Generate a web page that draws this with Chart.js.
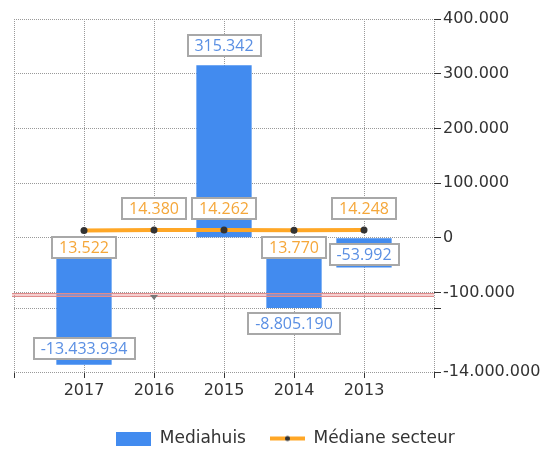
<!DOCTYPE html>
<html>
<head>
<meta charset="utf-8">
<script src="https://cdn.jsdelivr.net/npm/chart.js@4/dist/chart.umd.min.js"></script>
<style>
  html, body { margin: 0; padding: 0; background: #fff; }
  #wrap { width: 557px; height: 451px; }
</style>
</head>
<body>
<div id="wrap"><canvas id="myChart" width="557" height="451"></canvas></div>
<script>
// data
const years = ['2017', '2016', '2015', '2014', '2013'];
const mediahuis = [-13433934, null, 315342, -8805190, -53992];
const medianeSecteur = [13522, 14380, 14262, 13770, 14248];
const yTicks = [400000, 300000, 200000, 100000, 0, -100000, -9000000, -14000000];
const yTickLabels = ['400.000', '300.000', '200.000', '100.000', '0', '-100.000', '', '-14.000.000'];

// broken axis: value -> fraction of the height (0 = bottom)
const yStops = [[-14000000, 0], [-9000000, 0.18], [-100000, 0.225], [400000, 1]];
const breakValue = -100000;

const fmt = v => (v < 0 ? '-' : '') + Math.abs(v).toString().replace(/\B(?=(\d{3})+(?!\d))/g, '.');

class BrokenScale extends Chart.LinearScale {
    static id = 'broken';
    determineDataLimits() {
        this.min = yStops[0][0];
        this.max = yStops[yStops.length - 1][0];
    }
    buildTicks() {
        return yTicks.map(v => ({ value: v }));
    }
    getPixelForValue(value) {
        if (value === null || value === undefined || isNaN(value)) return NaN;
        let i = 1;
        while (i < yStops.length - 1 && value > yStops[i][0]) i++;
        const [v0, d0] = yStops[i - 1];
        const [v1, d1] = yStops[i];
        return this.getPixelForDecimal(d0 + (value - v0) / (v1 - v0) * (d1 - d0));
    }
    getValueForPixel(pixel) {
        const d = 1 - (pixel - this.top) / this.height;
        let i = 1;
        while (i < yStops.length - 1 && d > yStops[i][1]) i++;
        const [v0, d0] = yStops[i - 1];
        const [v1, d1] = yStops[i];
        return v0 + (d - d0) / (d1 - d0) * (v1 - v0);
    }
}
Chart.register(BrokenScale);

// padded categories so the grid reaches one step beyond the first and last year
const labels = [''].concat(years, ['']);
const pad = arr => [null].concat(arr, [null]);

// legend icons
function makeIcon(draw) {
    const c = document.createElement('canvas');
    c.width = 35; c.height = 14;
    draw(c.getContext('2d'));
    return c;
}
const barIcon = makeIcon(g => { g.fillStyle = '#428BEF'; g.fillRect(0, 0, 35, 14); });
const lineIcon = makeIcon(g => {
    g.fillStyle = '#FFA726'; g.fillRect(0, 5, 35, 4);
    g.fillStyle = '#333'; g.beginPath(); g.arc(17.5, 7, 2.5, 0, Math.PI * 2); g.fill();
});

// label placement
const barLabelShift = [-16, 0, -20, 15, -13];
const medianLabelBelow = [true, false, false, true, false];

function drawBox(ctx, text, cx, cy, color) {
    ctx.font = '16px "Open Sans"';
    const w = Math.round(ctx.measureText(text).width + 14);
    const h = 21;
    const x = Math.round(cx - w / 2), y = Math.round(cy - h / 2);
    ctx.fillStyle = '#fff';
    ctx.fillRect(x, y, w, h);
    ctx.strokeStyle = '#A8A8A8';
    ctx.lineWidth = 2;
    ctx.strokeRect(x, y, w, h);
    ctx.fillStyle = color;
    ctx.textAlign = 'center';
    ctx.textBaseline = 'middle';
    ctx.fillText(text, cx, y + h / 2 + 1);
}

const boxLabels = {
    id: 'boxLabels',
    afterDatasetsDraw(chart) {
        const { ctx, chartArea, scales: { x, y } } = chart;
        ctx.save();
        // axis break band
        const yb = Math.round(y.getPixelForValue(breakValue));
        ctx.fillStyle = 'rgba(236,150,150,0.45)';
        ctx.fillRect(chartArea.left - 2, yb, chartArea.right - chartArea.left + 2, 4);
        ctx.strokeStyle = '#DE8C8C';
        ctx.lineWidth = 1;
        ctx.beginPath();
        ctx.moveTo(chartArea.left - 2, yb + 0.5); ctx.lineTo(chartArea.right, yb + 0.5);
        ctx.moveTo(chartArea.left - 2, yb + 3.5); ctx.lineTo(chartArea.right, yb + 3.5);
        ctx.stroke();
        // marker for missing values
        mediahuis.forEach((v, i) => {
            if (v !== null) return;
            const px = x.getPixelForValue(i + 1);
            ctx.fillStyle = '#777';
            ctx.beginPath();
            ctx.moveTo(px - 4, yb + 2); ctx.lineTo(px + 4, yb + 2); ctx.lineTo(px, yb + 7);
            ctx.closePath(); ctx.fill();
        });

        const barMeta = chart.getDatasetMeta(0);
        mediahuis.forEach((v, i) => {
            if (v === null) return;
            const el = barMeta.data[i + 1];
            drawBox(ctx, fmt(v), el.x, el.y + barLabelShift[i], '#5A8FE3');
        });
        const lineMeta = chart.getDatasetMeta(1);
        medianeSecteur.forEach((v, i) => {
            const el = lineMeta.data[i + 1];
            drawBox(ctx, fmt(v), el.x, el.y + (medianLabelBelow[i] ? 17 : -21.5), '#F5A73A');
        });
        ctx.restore();
    }
};

const ctx = document.getElementById('myChart').getContext('2d');
const myChart = new Chart(ctx, {
    type: 'bar',
    data: {
        labels: labels,
        datasets: [
            {
                label: 'Mediahuis',
                data: pad(mediahuis),
                backgroundColor: '#428BEF',
                borderWidth: 0,
                barPercentage: 0.79,
                categoryPercentage: 1,
                order: 2
            },
            {
                type: 'line',
                label: 'Médiane secteur',
                data: pad(medianeSecteur),
                borderColor: '#FFA726',
                borderWidth: 4,
                pointRadius: 3.5,
                pointBackgroundColor: '#333',
                pointBorderColor: '#333',
                pointBorderWidth: 0,
                tension: 0,
                order: 1
            }
        ]
    },
    options: {
        responsive: false,
        animation: false,
        events: [],
        layout: { padding: { top: 19, left: 14, right: 0, bottom: -6 } },
        scales: {
            x: {
                offset: false,
                grid: {
                    offset: false,
                    color: '#999',
                    tickColor: '#333',
                    tickLength: 6,
                    tickBorderDash: []
                },
                border: { display: false, dash: [1, 1] },
                ticks: {
                    padding: 3,
                    autoSkip: false,
                    maxRotation: 0,
                    color: '#333',
                    font: { family: 'DejaVu Sans', size: 16 }
                },
                afterFit: scale => { scale.height = 34; }
            },
            y: {
                type: 'broken',
                position: 'right',
                grid: {
                    color: '#999',
                    tickColor: '#333',
                    tickLength: 7,
                    tickBorderDash: []
                },
                border: { display: false, dash: [1, 1] },
                ticks: {
                    padding: 2,
                    autoSkip: false,
                    color: '#333',
                    font: { family: 'DejaVu Sans', size: 16 },
                    callback: (value, index) => yTickLabels[index]
                },
                afterFit: scale => { scale.width = 123; }
            }
        },
        plugins: {
            tooltip: { enabled: false },
            legend: {
                position: 'bottom',
                labels: {
                    usePointStyle: true,
                    pointStyleWidth: 35,
                    boxHeight: 14,
                    padding: 24,
                    color: '#333',
                    font: { family: 'DejaVu Sans', size: 17 },
                    generateLabels: () => [
                        { text: 'Mediahuis', pointStyle: barIcon, datasetIndex: 0, fontColor: '#333', lineWidth: 0, hidden: false },
                        { text: 'Médiane secteur', pointStyle: lineIcon, datasetIndex: 1, fontColor: '#333', lineWidth: 0, hidden: false }
                    ]
                }
            }
        }
    },
    plugins: [boxLabels]
});
</script>
</body>
</html>
